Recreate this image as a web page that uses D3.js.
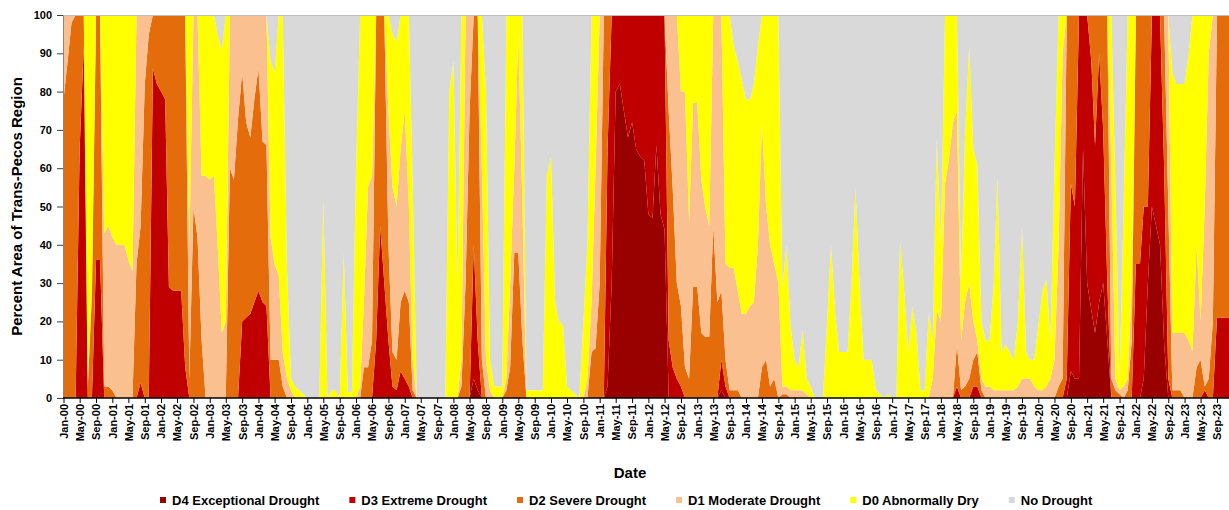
<!DOCTYPE html>
<html>
<head>
<meta charset="utf-8">
<script src="https://cdn.jsdelivr.net/npm/d3@7"></script>
<style>
  body { margin: 0; background: #fff; }
  svg { display: block; font-family: "Liberation Sans", Arial, sans-serif; }
</style>
</head>
<body>
<div id="chart"></div>
<script>
// Percent area of the region in each category "or worse", one value per month from Jan-00
const d0to4 = [
  100,100,100,100,100,100,100,100,100,100,100,100,
  100,100,100,100,100,100,100,100,100,100,100,100,
  100,100,100,100,100,100,100,100,100,100,100,100,
  100,100,95,91,100,100,100,100,100,100,100,100,
  100,100,100,88,85,100,100,35,5,3,2,1,
  0,0,0,0,52,0,2,2,0,38,1.5,1.5,
  60,100,100,100,100,100,100,100,100,95,93,100,
  100,100,57,0,0,0,0,0,0,0,0,80,
  88,30,100,100,100,100,100,100,80,10,3,3,
  3,100,100,100,100,100,2,2,2,2,2,58,
  63,25,20,19,3,2,1,0,20,40,100,100,
  100,100,100,100,100,100,100,100,100,100,100,100,
  100,100,100,100,100,100,100,100,100,100,100,100,
  100,100,100,100,100,100,100,100,100,92,88,83,
  78,78,82,92,100,100,100,100,100,29,40,19,
  10,8,18,5,3,0,0,0,20,40,22,12,
  12,12,29,55,30,10,10,10,2,1,0,1,
  0,0,41,28,12,24,17,2,2,22,15,68,
  40,100,100,100,100,30,69,92,65,61,20,15,
  15,30,58,12,14,12,10,20,45,12,10,10,
  19,28,31,15,60,100,100,100,100,100,100,100,
  100,100,100,100,100,100,100,55,5,50,100,100,
  100,100,100,100,100,100,100,100,100,85,82,82,
  82,90,100,100,100,100,100,100,100,100,100,100
];
const d1to4 = [
  100,100,100,100,100,100,5,30,100,100,43,45,
  42,40,40,40,36,33,100,100,100,100,100,100,
  100,100,100,100,100,100,100,40,100,100,58,58,
  57,58,40,17,20,100,100,100,100,100,100,100,
  100,100,100,42,35,32,12,5,2,0,0,0,
  0,0,0,0,0,0,0,0,0,0,0,0,
  0,3,25,55,58,100,100,100,75,55,50,65,
  75,50,10,0,0,0,0,0,0,0,0,0,
  0,0,10,100,100,100,100,60,10,2,0,0,
  0,5,30,60,95,50,0,0,0,0,0,0,
  0,0,0,0,0,0,0,0,0,5,25,60,
  100,100,100,100,100,100,100,100,100,100,100,100,
  100,100,100,100,100,100,100,100,80,80,46,77,
  77,57,50,45,100,100,100,35,34,34,28,22,
  22,24,25,40,72,50,40,35,30,3,3,2,
  2,2,2,1,0,0,0,0,0,0,0,0,
  0,0,0,0,0,0,0,0,0,0,0,0,
  0,0,0,0,0,0,0,0,0,0,5,23,
  20,56,62,72,75,15,25,30,20,15,5,3,
  3,2,2,2,2,2,2,3,5,5,5,3,
  2,2,3,5,10,40,90,100,100,100,100,100,
  100,100,100,100,100,100,60,5,2,3,5,30,
  100,100,100,100,100,100,100,100,100,17,17,17,
  17,15,12,40,20,50,90,100,100,100,100,100
];
const d2to4 = [
  78,88,98,100,100,100,3,27,100,100,3,3,
  2,0,0,0,0,0,35,45,82,95,100,100,
  100,100,100,100,100,100,100,5,50,42,15,0,
  0,0,0,0,0,60,57,73,85,72,68,78,
  86,67,66,10,10,10,3,0,0,0,0,0,
  0,0,0,0,0,0,0,0,0,0,0,0,
  0,0,8,8,15,100,100,100,40,12,10,25,
  28,25,2,0,0,0,0,0,0,0,0,0,
  0,0,3,30,75,100,100,10,0,0,0,0,
  0,2,8,38,38,15,0,0,0,0,0,0,
  0,0,0,0,0,0,0,0,0,0,12,13,
  30,100,100,100,100,100,100,100,100,100,100,100,
  100,100,100,100,100,75,55,30,24,8,5,29,
  29,17,16,16,45,25,28,10,2,2,2,0,
  0,0,0,0,8,10,3,5,0,1,1,0,
  0,0,0,0,0,0,0,0,0,0,0,0,
  0,0,0,0,0,0,0,0,0,0,0,0,
  0,0,0,0,0,0,0,0,0,0,0,0,
  0,0,0,0,14,2,3,5,10,12,2,0,
  0,0,0,0,0,0,0,0,0,0,0,0,
  0,0,0,0,0,3,5,100,100,100,100,100,
  100,100,100,100,100,100,5,2,1,0,2,15,
  100,100,100,100,100,100,100,100,50,2,2,2,
  0,0,0,8,10,3,5,20,100,100,100,100
];
const d3to4 = [
  0,0,0,0,65,92,0,0,36,36,0,0,
  0,0,0,0,0,0,0,4,0,0,86,82,
  80,78,29,28,28,28,8,0,0,0,0,0,
  0,0,0,0,0,0,0,0,20,21,22,25,
  28,25,24,0,0,0,0,0,0,0,0,0,
  0,0,0,0,0,0,0,0,0,0,0,0,
  0,0,0,0,0,15,45,30,15,3,2,7,
  5,3,0,0,0,0,0,0,0,0,0,0,
  0,0,0,0,0,40,15,0,0,0,0,0,
  0,0,0,0,0,0,0,0,0,0,0,0,
  0,0,0,0,0,0,0,0,0,0,0,0,
  0,0,65,100,100,100,100,100,100,100,100,100,
  100,100,100,100,100,15,8,5,3,0,0,0,
  0,0,0,0,0,0,10,3,0,0,0,0,
  0,0,0,0,0,0,0,0,0,0,0,0,
  0,0,0,0,0,0,0,0,0,0,0,0,
  0,0,0,0,0,0,0,0,0,0,0,0,
  0,0,0,0,0,0,0,0,0,0,0,0,
  0,0,0,0,3,0,0,0,3,3,0,0,
  0,0,0,0,0,0,0,0,0,0,0,0,
  0,0,0,0,0,0,0,5,56,50,100,100,
  100,88,66,90,70,30,0,0,0,0,0,0,
  35,35,50,50,100,100,100,60,5,0,0,0,
  0,0,0,0,0,2,0,0,21,21,21,21
];
const d4only = [
  0,0,0,0,0,0,0,0,0,0,0,0,
  0,0,0,0,0,0,0,0,0,0,0,0,
  0,0,0,0,0,0,0,0,0,0,0,0,
  0,0,0,0,0,0,0,0,0,0,0,0,
  0,0,0,0,0,0,0,0,0,0,0,0,
  0,0,0,0,0,0,0,0,0,0,0,0,
  0,0,0,0,0,0,0,0,0,0,0,0,
  0,0,0,0,0,0,0,0,0,0,0,0,
  0,0,0,0,0,5,2,0,0,0,0,0,
  0,0,0,0,0,0,0,0,0,0,0,0,
  0,0,0,0,0,0,0,0,0,0,0,0,
  0,0,3,30,80,82,75,68,72,65,63,62,
  48,47,66,48,44,0,0,0,0,0,0,0,
  0,0,0,0,0,0,2,0,0,0,0,0,
  0,0,0,0,0,0,0,0,0,0,0,0,
  0,0,0,0,0,0,0,0,0,0,0,0,
  0,0,0,0,0,0,0,0,0,0,0,0,
  0,0,0,0,0,0,0,0,0,0,0,0,
  0,0,0,0,0,0,0,0,0,0,0,0,
  0,0,0,0,0,0,0,0,0,0,0,0,
  0,0,0,0,0,0,0,0,7,5,5,65,
  30,23,17,25,30,15,0,0,0,0,0,0,
  0,0,5,30,50,45,40,14,0,0,0,0,
  0,0,0,0,0,0,0,0,0,0,0,0
];

const keys = ["D4", "D3", "D2", "D1", "D0", "None"];
const legendLabels = ["D4 Exceptional Drought", "D3 Extreme Drought", "D2 Severe Drought",
                      "D1 Moderate Drought", "D0 Abnormally Dry", "No Drought"];
const colors = ["#990000", "#C00000", "#E46C0A", "#FAC090", "#FFFF00", "#D9D9D9"];

const width = 1229, height = 510;
const plotLeft = 63, plotTop = 15, plotBottom = 398, plotRight = 1229;

// Monthly rows, split the cumulative values into single categories
const months = d3.range(d0to4.length).map(i => new Date(2000, i, 1));
const rows = months.map((date, i) => {
    const c = [d4only[i], d3to4[i], d2to4[i], d1to4[i], d0to4[i], 100];
    const r = { date };
    keys.forEach((k, j) => {
        r[k] = Math.max(0, c[j] - (j > 0 ? c[j - 1] : 0));
    });
    return r;
});

const x = d3.scaleTime()
    .domain([new Date(2000, 0, 1), new Date(2023, 8, 1)])
    .range([63.5, 1217]);
const y = d3.scaleLinear().domain([0, 100]).range([plotBottom, plotTop]);
const color = d3.scaleOrdinal().domain(keys).range(colors);

const svg = d3.select("#chart").append("svg")
    .attr("width", width)
    .attr("height", height);

svg.append("clipPath").attr("id", "plot-clip")
    .append("rect")
    .attr("x", plotLeft).attr("y", plotTop)
    .attr("width", plotRight - plotLeft).attr("height", plotBottom - plotTop);

// Stacked areas
const series = d3.stack().keys(keys)(rows);
const area = d3.area()
    .x(d => x(d.data.date))
    .y0(d => y(d[0]))
    .y1(d => y(d[1]));

svg.append("g")
    .attr("clip-path", "url(#plot-clip)")
    .selectAll("path")
    .data(series)
    .enter().append("path")
    .attr("fill", d => color(d.key))
    .attr("d", area);

// Top border of the plot
svg.append("line")
    .attr("x1", plotLeft).attr("x2", plotRight)
    .attr("y1", plotTop + 0.5).attr("y2", plotTop + 0.5)
    .attr("stroke", "#bfbfbf");

// Y axis
const yAxis = svg.append("g")
    .attr("transform", `translate(${plotLeft},0)`)
    .call(d3.axisLeft(y).tickValues(d3.range(0, 101, 10)).tickSize(6).tickPadding(5).tickSizeOuter(0));
yAxis.select(".domain").attr("stroke", "#868686");
yAxis.selectAll(".tick line").attr("stroke", "#404040");
yAxis.selectAll("text")
    .style("font-size", "11px")
    .style("font-weight", "bold")
    .attr("fill", "#000");

// X axis, tick every four months
const tickDates = d3.timeMonth.range(new Date(2000, 0, 1), new Date(2023, 9, 1), 4);
const xAxis = svg.append("g")
    .attr("transform", `translate(0,${plotBottom})`)
    .call(d3.axisBottom(x).tickValues(tickDates).tickFormat(d3.timeFormat("%b-%y")).tickSize(5).tickSizeOuter(0));
xAxis.select(".domain").remove();
xAxis.append("line")
    .attr("x1", plotLeft).attr("x2", plotRight)
    .attr("stroke", "#000").attr("stroke-width", 1.5);
xAxis.selectAll(".tick line").attr("stroke", "#000");
xAxis.selectAll("text")
    .attr("transform", "rotate(-90)")
    .attr("x", -6)
    .attr("y", 0)
    .attr("dy", "0.35em")
    .attr("text-anchor", "end")
    .attr("fill", "#000")
    .style("font-size", "11px")
    .style("font-weight", "bold");

// Axis titles
svg.append("text")
    .attr("transform", `translate(17,${(plotTop + plotBottom) / 2}) rotate(-90)`)
    .attr("text-anchor", "middle")
    .attr("dy", "0.35em")
    .style("font-size", "15px")
    .style("font-weight", "bold")
    .text("Percent Area of Trans-Pecos Region");

svg.append("text")
    .attr("x", 630).attr("y", 473)
    .attr("text-anchor", "middle")
    .attr("dy", "0.35em")
    .style("font-size", "15px")
    .style("font-weight", "bold")
    .text("Date");

// Legend, items laid out in a row
const legend = svg.append("g").attr("transform", "translate(0,500)");
let lx = 160;
keys.forEach((k, i) => {
    const item = legend.append("g").attr("transform", `translate(${lx},0)`);
    item.append("rect")
        .attr("x", 0).attr("y", -3)
        .attr("width", 6).attr("height", 6)
        .attr("fill", colors[i]);
    const t = item.append("text")
        .attr("x", 12).attr("dy", "0.35em")
        .style("font-size", "13px")
        .style("font-weight", "bold")
        .text(legendLabels[i]);
    lx += 12 + t.node().getComputedTextLength() + 30;
});
</script>
</body>
</html>
